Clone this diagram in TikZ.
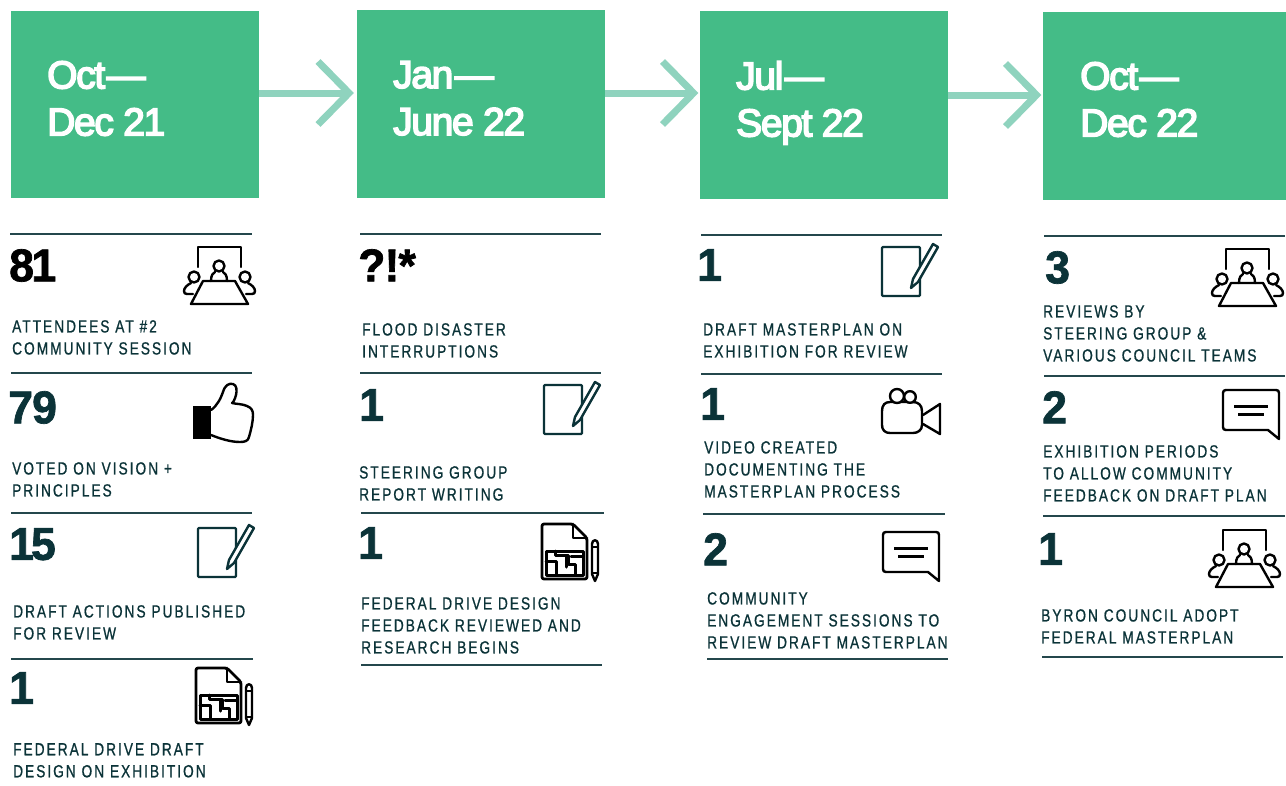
\documentclass[tikz,border=0pt]{standalone}
\usepackage{fontspec}
\setmainfont{Liberation Sans}
\newfontfamily\titlef[FakeBold=4,LetterSpace=-3.5]{Liberation Sans}
\newfontfamily\numf[FakeStretch=0.97,FakeBold=1.5,LetterSpace=-2]{Liberation Sans Bold}
\newfontfamily\labf[FakeStretch=0.78,FakeBold=0.8,LetterSpace=11.3]{Liberation Sans}
\definecolor{boxgreen}{HTML}{44BC87}
\definecolor{arrowgreen}{HTML}{8FD3BE}
\definecolor{ink}{HTML}{0B3338}
\definecolor{rulec}{HTML}{24474C}
\newcommand{\edash}{\kern1.5pt—}
\tikzset{
  x=1pt,y=-1pt,
  period/.style={fill=boxgreen,draw=none,anchor=north west,inner sep=0},
  title/.style={anchor=north west,inner sep=0,text=white,align=left,font=\fontsize{39}{47}\selectfont\titlef},
  num/.style={anchor=north west,inner sep=0,text=ink,font=\fontsize{46}{46}\selectfont\numf},
  lab/.style={anchor=north west,inner sep=0,text=ink,align=left,font=\fontsize{17.6}{22}\selectfont\labf},
  sep/.style={draw=rulec,line width=1.6pt},
  flow/.style={draw=arrowgreen,line width=7pt},
  flowhead/.style={draw=arrowgreen,line width=7pt,miter limit=10,line join=miter},
  ic/.style={line width=2.4pt,line join=round,line cap=round,draw=black},
  meeting/.pic={
    \draw[ic] (14,20) -- (14,0) -- (57,0) -- (57,20);
    \draw[ic] (35,19) circle[radius=5.5];
    \draw[ic] (27,34) .. controls (27,28) and (29,26) .. (31,25);
    \draw[ic] (43,34) .. controls (43,28) and (41,26) .. (39,25);
    \draw[ic] (19,34) -- (51,34) -- (64,57) -- (7,57) -- cycle;
    \draw[ic] (10,30) circle[radius=5.5];
    \draw[ic] (61,30) circle[radius=5.5];
    \draw[ic] (7,36) .. controls (3,38) and (0,41) .. (0,44) .. controls (0,46) and (1,47) .. (3,47) -- (9,47);
    \draw[ic] (64,36) .. controls (68,38) and (71,41) .. (71,44) .. controls (71,46) and (70,47) .. (68,47) -- (62,47);
  },
  thumb/.pic={
    \fill[black] (0,0) rectangle (18,33);
    \draw[ic] (18,4) .. controls (24,0) and (28,-8) .. (30,-14) .. controls (32,-21) and (36,-23) .. (40,-22)
      .. controls (44,-21) and (44,-15) .. (43,-11) .. controls (42,-7) and (40,-3) .. (39,-3)
      .. controls (43,-2) and (50,-2) .. (54,0) .. controls (59,2) and (60,5) .. (60,9)
      .. controls (60,16) and (58,24) .. (56,31) .. controls (55,35) and (52,36) .. (47,36)
      .. controls (38,36) and (28,33) .. (18,29);
  },
  note/.pic={
    \draw[ic,draw=ink,rounded corners=1pt] (0,0) rectangle (38,49);
    \draw[ic,draw=ink,fill=white] (29,41) -- (31,32) -- (51,-3) -- (56,0) -- (36,35) -- cycle;
  },
  plan/.pic={
    \draw[ic,line width=2.8pt,rounded corners=2pt] (0,0) -- (31,0) -- (45,14) -- (45,55) -- (0,55) -- cycle;
    \draw[ic,line width=2.8pt] (31,0) -- (31,14) -- (45,14);
    \draw[ic,line width=3pt] (4,27) rectangle (41,51);
    \draw[ic,line width=3pt] (4,37) -- (14,37) -- (14,51);
    \draw[ic,line width=3pt] (13,27) -- (13,31) -- (26,31) -- (26,40) -- (33,40) -- (33,51);
    \draw[ic,line width=3pt] (24,32) -- (24,43);
    \draw[ic,line width=3pt] (29,32) -- (41,32);
    \draw[ic] (50,20) .. controls (50,15) and (56,15) .. (56,20) -- (56,50) -- (53,57) -- (50,50) -- cycle;
    \draw[ic,line width=1.6pt] (50,23) -- (56,23) (50,49) -- (56,49);
  },
  video/.pic={
    \draw[ic] (8,15) -- (31,15) .. controls (36,15) and (40,18) .. (40,24) -- (40,38) .. controls (40,43) and (36,46) .. (31,46) -- (8,46) .. controls (3,46) and (0,43) .. (0,38) -- (0,24) .. controls (0,18) and (3,15) .. (8,15) -- cycle;
    \draw[ic,fill=white] (15,9) circle[radius=7];
    \draw[ic,fill=white] (28,10) circle[radius=5.8];
    \draw[ic] (41,28) -- (58,17) -- (58,47) -- (41,37);
  },
  chat/.pic={
    \draw[ic] (3,0) -- (53,0) .. controls (55,0) and (56,1) .. (56,3) -- (56,49) -- (45,40) -- (3,40) .. controls (1,40) and (0,39) .. (0,37) -- (0,3) .. controls (0,1) and (1,0) .. (3,0) -- cycle;
    \draw[ic,line cap=butt,line width=3pt] (11,16) -- (45,16) (15,24) -- (41,24);
  }
}
\begin{document}
\begin{tikzpicture}
\useasboundingbox (0,0) rectangle (1286,785);
% period boxes
\node[period,minimum width=248pt,minimum height=187pt] (b1) at (11,11) {};
\node[period,minimum width=248pt,minimum height=188pt] (b2) at (357,10) {};
\node[period,minimum width=248pt,minimum height=188pt] (b3) at (700,11) {};
\node[period,minimum width=243pt,minimum height=188pt] (b4) at (1043,12) {};
\node[title] (t1) at (47,61) {Oct\edash\\Dec 21};
\node[title] (t2) at (393,61) {Jan\edash\\June 22};
\node[title] (t3) at (736,61) {Jul\edash\\Sept 22};
\node[title] (t4) at (1080,62) {Oct\edash\\Dec 22};
% connectors: shaft from box to chevron tip
\coordinate (a1) at (0,93);
\coordinate (a2) at (0,93);
\coordinate (a3) at (0,95);
\coordinate (h1) at ([xshift=-8pt]b2.west |- a1);
\coordinate (h2) at ([xshift=-6.5pt]b3.west |- a2);
\coordinate (h3) at ([xshift=-6.5pt]b4.west |- a3);
\draw[flow] (b1.east |- a1) -- (h1);
\draw[flow] (b2.east |- a2) -- (h2);
\draw[flow] (b3.east |- a3) -- (h3);
\draw[flowhead] ([shift={(-31,-31.5)}]h1) -- (h1) -- ([shift={(-31,31.5)}]h1);
\draw[flowhead] ([shift={(-31,-31.5)}]h2) -- (h2) -- ([shift={(-31,31.5)}]h2);
\draw[flowhead] ([shift={(-31,-31.5)}]h3) -- (h3) -- ([shift={(-31,31.5)}]h3);
% rules
\foreach \xa/\xb/\yy in {10/252/234,11/252/373,11/252/513,11/253/659,
  360/601/234,360/601/373,361/604/513,361/602/665,
  701/942/235,701/942/374,703/945/514,707/948/659,
  1044/1285/236,1044/1285/376,1043/1285/516,1042/1283/657}
  \draw[sep] (\xa,\yy) -- (\xb,\yy);
% column 1
\node[num,text=black] (n11) at (9,249) {8\kern-2.5pt 1};
\node[lab] (l11) at (12,320) {ATTENDEES AT \#2\\COMMUNITY SESSION};
\pic at (184,247) {meeting};
\node[num] (n12) at (8,391) {79};
\node[lab] (l12) at (12,462) {VOTED ON VISION +\\PRINCIPLES};
\pic at (193,406) {thumb};
\node[num] (n13) at (9,528) {1\kern-3pt 5};
\node[lab] (l13) at (13,605) {DRAFT ACTIONS PUBLISHED\\FOR REVIEW};
\pic at (198,528) {note};
\node[num] (n14) at (9,672) {1};
\node[lab] (l14) at (13,743) {FEDERAL DRIVE DRAFT\\DESIGN ON EXHIBITION};
\pic at (196,668) {plan};
% column 2
\node[num,text=black] (n21) at (358,249) {?!*};
\node[lab] (l21) at (362,323) {FLOOD DISASTER\\INTERRUPTIONS};
\node[num] (n22) at (359,389) {1};
\node[lab] (l22) at (359,466) {STEERING GROUP\\REPORT WRITING};
\pic at (544,385) {note};
\node[num] (n23) at (358,527) {1};
\node[lab] (l23) at (361,597) {FEDERAL DRIVE DESIGN\\FEEDBACK REVIEWED AND\\RESEARCH BEGINS};
\pic at (542,524) {plan};
% column 3
\node[num] (n31) at (697,249) {1};
\node[lab] (l31) at (703,323) {DRAFT MASTERPLAN ON\\EXHIBITION FOR REVIEW};
\pic at (882,247) {note};
\node[num] (n32) at (700,388) {1};
\node[lab] (l32) at (704,441) {VIDEO CREATED\\DOCUMENTING THE\\MASTERPLAN PROCESS};
\pic at (882,387) {video};
\node[num] (n33) at (703,533) {2};
\node[lab] (l33) at (707,592) {COMMUNITY\\ENGAGEMENT SESSIONS TO\\REVIEW DRAFT MASTERPLAN};
\pic at (883,532) {chat};
% column 4
\node[num] (n41) at (1045,251) {3};
\node[lab] (l41) at (1043,305) {REVIEWS BY\\STEERING GROUP \&\\VARIOUS COUNCIL TEAMS};
\pic at (1212,249) {meeting};
\node[num] (n42) at (1042,391) {2};
\node[lab] (l42) at (1043,445) {EXHIBITION PERIODS\\TO ALLOW COMMUNITY\\FEEDBACK ON DRAFT PLAN};
\pic at (1223,390) {chat};
\node[num] (n43) at (1038,533) {1};
\node[lab] (l43) at (1041,609) {BYRON COUNCIL ADOPT\\FEDERAL MASTERPLAN};
\pic at (1209,530) {meeting};
\end{tikzpicture}
\end{document}
